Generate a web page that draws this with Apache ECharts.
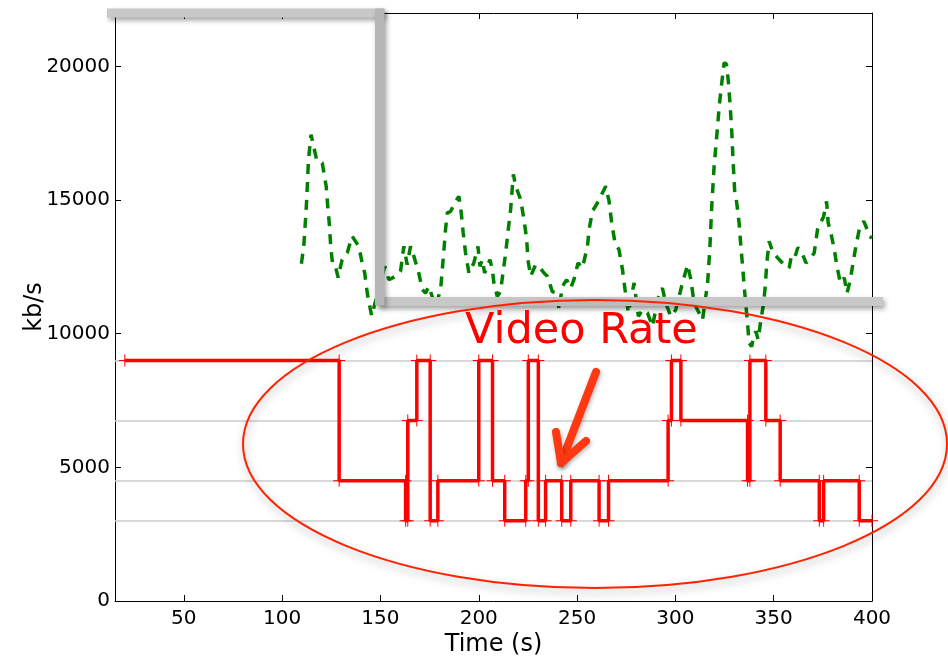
<!DOCTYPE html>
<html>
<head>
<meta charset="utf-8">
<title>Video Rate vs Throughput</title>
<script src="https://cdn.jsdelivr.net/npm/echarts@6/dist/echarts.min.js"></script>
<style>
  html, body { margin: 0; padding: 0; background: #fff; }
  #chart { width: 948px; height: 656px; }
</style>
</head>
<body>
<div id="chart"></div>
<script>
// Axis ticks
const xTicks = [50, 100, 150, 200, 250, 300, 350, 400];
const yTicks = [0, 5000, 10000, 15000, 20000];

// Available encoding rates (kb/s), also drawn as reference lines
const rateLevels = [3000, 4500, 6750, 9000];

// Selected video rate: switch time (s) and the rate held from that time on
const switchTimes = [20, 129, 162.8, 163.9, 168.5, 175.3, 179.2, 200, 207, 213.2,
  223.9, 225.2, 230.3, 234, 242.2, 246.8, 261.2, 266, 296.3, 298,
  302.8, 336.7, 337.9, 346, 353.3, 373.2, 375.4, 393.5];
const segmentRates = [9000, 4500, 3000, 6750, 9000, 3000, 4500, 9000, 4500, 3000,
  4500, 9000, 3000, 4500, 3000, 4500, 3000, 4500, 6750, 9000,
  6750, 4500, 9000, 6750, 4500, 3000, 4500, 3000];
const sessionEnd = 400;

// Measured throughput (kb/s)
const throughputTimes = [
  109.8, 111.0, 111.9, 112.5, 113.4, 114.7, 115.4, 117.7, 120.4, 122.4,
  123.2, 124.1, 124.7, 125.7, 127.1, 128.5, 130.5, 133.1, 135.6, 139.0,
  140.7, 142.0, 143.3, 145.5, 147.5, 152.2, 154.3, 157.7, 160.2, 161.9,
  163.6, 165.3, 167.0, 169.5, 171.3, 172.9, 174.6, 178.0, 180.6, 182.3,
  183.1, 184.0, 185.7, 188.2, 189.9, 191.1, 192.1, 193.3, 195.0, 197.5,
  199.6, 200.6, 201.8, 203.0, 205.7, 206.9, 207.7, 209.4, 211.1, 212.3,
  213.7, 215.0, 216.2, 217.6, 218.8, 221.3, 223.0, 224.4, 225.0, 226.4,
  228.9, 230.6, 233.2, 234.9, 237.4, 240.0, 240.8, 242.5, 244.7, 246.8,
  248.4, 250.5, 252.7, 255.3, 256.1, 257.8, 260.4, 262.0, 264.6, 266.3,
  267.6, 269.3, 271.3, 273.1, 274.4, 276.1, 279.0, 281.2, 283.3, 285.8,
  288.4, 290.9, 293.4, 295.1, 297.7, 300.2, 303.6, 306.2, 307.9, 309.5,
  313.8, 316.4, 317.5, 318.5, 319.7, 320.9, 322.3, 323.6, 324.8, 326.0,
  327.0, 327.9, 328.7, 329.4, 330.3, 331.0, 332.4, 333.3, 334.2, 335.0,
  335.9, 336.7, 337.5, 338.8, 339.8, 340.9, 342.1, 343.5, 344.9, 345.7,
  346.5, 347.7, 349.4, 352.0, 355.3, 357.9, 358.8, 360.4, 362.2, 363.8,
  366.4, 368.1, 370.6, 372.3, 375.4, 376.9, 377.7, 379.1, 380.8, 382.2,
  383.9, 385.9, 387.3, 389.0, 390.2, 391.8, 393.5, 395.8, 396.9, 398.6,
  400];
const throughputValues = [
  12620, 13270, 14270, 15020, 16520, 17450, 17400, 16460, 16390, 15520,
  14770, 14020, 13270, 12580, 12520, 12100, 12770, 13020, 13650, 13270,
  12650, 12270, 11520, 10670, 11210, 12520, 12020, 12150, 12330, 13270,
  12580, 13270, 12900, 12270, 11650, 11520, 11770, 11020, 11650, 13150,
  13900, 14520, 14580, 14950, 15140, 14520, 13770, 13020, 12270, 12650,
  13270, 12520, 12770, 12270, 12770, 12400, 11900, 11400, 11580, 12270,
  13020, 13900, 14640, 15960, 15520, 15020, 14270, 13520, 12770, 12150,
  12580, 12520, 12270, 12150, 11580, 11520, 10900, 11770, 12020, 11710,
  12020, 12650, 12460, 13270, 13900, 14580, 14900, 15140, 15520, 14950,
  14150, 13400, 13150, 12400, 11650, 10780, 11900, 10650, 10900, 10780,
  10270, 11270, 11710, 11150, 10650, 10900, 11900, 12580, 12020, 11150,
  10520, 11900, 13150, 14770, 16270, 17270, 18510, 19390, 20140, 20080,
  19390, 18510, 17520, 16390, 15140, 15020, 14150, 13270, 12520, 11770,
  11020, 10400, 9650, 9520, 9900, 10090, 9780, 10520, 11150, 11770,
  12650, 13460, 13080, 12840, 12580, 12460, 12840, 12770, 13210, 13150,
  12650, 12770, 13020, 13900, 14390, 14950, 14150, 13770, 13150, 12520,
  11900, 12090, 11520, 12020, 12580, 13270, 13900, 14210, 14020, 13650,
  13580];

// Step corners: each rate segment contributes its start and end point
const rateCorners = [];
switchTimes.forEach((t, i) => {
  const tEnd = i + 1 < switchTimes.length ? switchTimes[i + 1] : sessionEnd;
  rateCorners.push([t, segmentRates[i]]);
  rateCorners.push([tEnd, segmentRates[i]]);
});
const throughput = throughputTimes.map((t, i) => [t, throughputValues[i]]);

const FONT = '"DejaVu Sans", sans-serif';
const plusSymbol = 'path://M0,5.5L12,5.5L12,6.5L0,6.5Z M5.5,0L6.5,0L6.5,12L5.5,12Z';
const barShadow = { shadowBlur: 5, shadowOffsetX: 2, shadowOffsetY: 3, shadowColor: 'rgba(0,0,0,0.35)' };
const plain = v => String(v);

const frameAxis = (extra) => Object.assign({
  type: 'value',
  axisLine: { show: true, onZero: false, lineStyle: { color: '#000', width: 1 } },
  splitLine: { show: false },
}, extra);

const chart = echarts.init(document.getElementById('chart'), null, { renderer: 'canvas' });
chart.setOption({
  animation: false,
  backgroundColor: '#fff',
  grid: { left: 115, right: 76, top: 13, bottom: 55, containLabel: false, outerBoundsMode: 'none' },
  xAxis: [
    frameAxis({
      min: 15, max: 400, position: 'bottom',
      axisTick: { show: true, inside: true, length: 6, customValues: xTicks, lineStyle: { color: '#000' } },
      axisLabel: { customValues: xTicks, formatter: plain, fontSize: 20, fontFamily: FONT, color: '#000', margin: 8 },
      name: 'Time (s)', nameLocation: 'middle', nameGap: 32, nameMoveOverlap: false,
      nameTextStyle: { fontSize: 24, fontFamily: FONT, color: '#000' }
    }),
    frameAxis({
      min: 15, max: 400, position: 'top',
      axisTick: { show: true, inside: true, length: 6, customValues: xTicks, lineStyle: { color: '#000' } },
      axisLabel: { show: false }
    })
  ],
  yAxis: [
    frameAxis({
      min: 0, max: 22000, position: 'left',
      axisTick: { show: true, inside: true, length: 6, customValues: yTicks, lineStyle: { color: '#000' } },
      axisLabel: { customValues: yTicks, formatter: plain, fontSize: 20, fontFamily: FONT, color: '#000', margin: 5 },
      name: 'kb/s', nameLocation: 'middle', nameGap: 68, nameRotate: 90, nameMoveOverlap: false,
      nameTextStyle: { fontSize: 24, fontFamily: FONT, color: '#000' }
    }),
    frameAxis({
      min: 0, max: 22000, position: 'right',
      axisTick: { show: true, inside: true, length: 6, customValues: yTicks, lineStyle: { color: '#000' } },
      axisLabel: { show: false }
    })
  ],
  series: [
    {
      name: 'Video Rate',
      type: 'line',
      data: rateCorners,
      xAxisIndex: 0, yAxisIndex: 0,
      symbol: plusSymbol,
      symbolSize: 12,
      showSymbol: true,
      lineStyle: { color: '#ff0000', width: 3.5 },
      itemStyle: { color: '#ff0000', borderWidth: 0 },
      emphasis: { disabled: true },
      z: 3,
      markLine: {
        silent: true,
        z: 1,
        symbol: 'none',
        label: { show: false },
        lineStyle: { color: '#cccccc', width: 1.5, type: 'solid' },
        data: rateLevels.map(v => ({ yAxis: v }))
      }
    },
    {
      name: 'Throughput',
      type: 'line',
      data: throughput,
      xAxisIndex: 0, yAxisIndex: 0,
      symbol: 'none',
      showSymbol: false,
      lineStyle: { color: '#008000', width: 3.5, type: [10, 8] },
      emphasis: { disabled: true },
      z: 4
    }
  ],
  graphic: [
    { type: 'rect', z: 100, shape: { x: 107, y: 8.5, width: 277, height: 9 },
      style: Object.assign({ fill: '#c8c8c8' }, barShadow) },
    { type: 'rect', z: 101, shape: { x: 379, y: 297, width: 504, height: 9 },
      style: Object.assign({ fill: '#c8c8c8' }, barShadow) },
    { type: 'rect', z: 102, shape: { x: 375, y: 8.5, width: 9.5, height: 297 },
      style: Object.assign({ fill: '#b6b6b6' }, barShadow) },
    { type: 'ellipse', z: 103, shape: { cx: 595, cy: 444, rx: 352, ry: 144 },
      style: { fill: 'none', stroke: '#ff2200', lineWidth: 2,
               shadowBlur: 8, shadowOffsetX: 1, shadowOffsetY: 4, shadowColor: 'rgba(0,0,0,0.35)' } },
    { type: 'text', z: 104, x: 465, y: 332,
      style: { text: 'Video Rate', font: '43px "DejaVu Sans", sans-serif', fill: '#ff0000',
               align: 'left', verticalAlign: 'middle' } },
    { type: 'polyline', z: 105, shape: { points: [[596, 372], [561, 463]] },
      style: { stroke: '#ff3814', lineWidth: 8, lineCap: 'round', fill: 'none',
               shadowBlur: 4, shadowOffsetX: 1, shadowOffsetY: 2, shadowColor: 'rgba(0,0,0,0.3)' } },
    { type: 'polyline', z: 105, shape: { points: [[556, 432], [561, 463], [586, 441]] },
      style: { stroke: '#ff3814', lineWidth: 8, lineCap: 'round', lineJoin: 'round', fill: 'none',
               shadowBlur: 4, shadowOffsetX: 1, shadowOffsetY: 2, shadowColor: 'rgba(0,0,0,0.3)' } }
  ]
});
</script>
</body>
</html>
